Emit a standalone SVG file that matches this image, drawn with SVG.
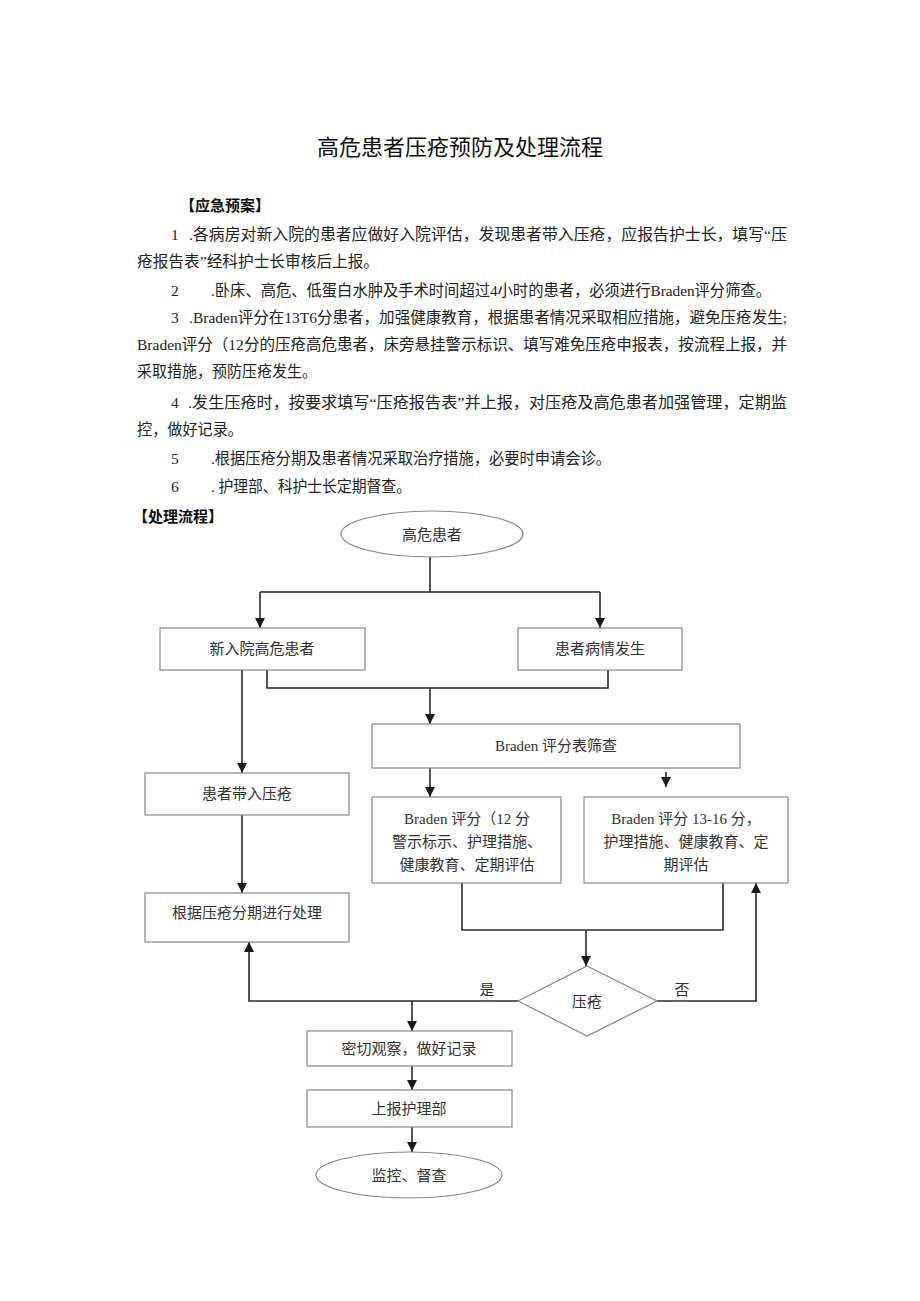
<svg xmlns="http://www.w3.org/2000/svg" width="920" height="1301" viewBox="0 0 920 1301">
<defs>
<style>
.t{font-family:'Liberation Serif','Noto Sans CJK SC',serif;font-size:15.5px;fill:#222}
.h{font-family:'Noto Sans CJK SC',sans-serif;font-size:15px;font-weight:bold;fill:#111}
.title{font-family:'Noto Sans CJK SC',sans-serif;font-size:22px;fill:#111}
.box{fill:#fff;stroke:#888;stroke-width:1.2}
.bt{font-family:'Liberation Serif','Noto Sans CJK SC',serif;font-size:15px;fill:#333;text-anchor:middle}
.c{fill:none;stroke:#2a2a2a;stroke-width:1.6}
</style>
<marker id="ar" markerUnits="userSpaceOnUse" markerWidth="10" markerHeight="10" viewBox="0 0 10 10" refX="10" refY="5" orient="auto">
<path d="M0,0 L10,5 L0,10 z" fill="#1a1a1a"/>
</marker>
</defs>
<rect width="920" height="1301" fill="#fff"/>

<text class="title" x="460" y="155" text-anchor="middle">高危患者压疮预防及处理流程</text>

<text class="h" x="180" y="211">【应急预案】</text>

<text class="t" x="171" y="240">1</text>
<text class="t" x="189" y="240" textLength="598" lengthAdjust="spacingAndGlyphs">.各病房对新入院的患者应做好入院评估，发现患者带入压疮，应报告护士长，填写“压</text>
<text class="t" x="137" y="267" textLength="242" lengthAdjust="spacingAndGlyphs">疮报告表”经科护士长审核后上报。</text>

<text class="t" x="171" y="296">2</text>
<text class="t" x="211" y="296" textLength="560" lengthAdjust="spacingAndGlyphs">.卧床、高危、低蛋白水肿及手术时间超过4小时的患者，必须进行Braden评分筛查。</text>

<text class="t" x="171" y="323">3</text>
<text class="t" x="189" y="323" textLength="598" lengthAdjust="spacingAndGlyphs">.Braden评分在13T6分患者，加强健康教育，根据患者情况采取相应措施，避免压疮发生;</text>
<text class="t" x="137" y="350" textLength="650" lengthAdjust="spacingAndGlyphs">Braden评分（12分的压疮高危患者，床旁悬挂警示标识、填写难免压疮申报表，按流程上报，并</text>
<text class="t" x="137" y="377" textLength="180" lengthAdjust="spacingAndGlyphs">采取措施，预防压疮发生。</text>

<text class="t" x="171" y="408">4</text>
<text class="t" x="188" y="408" textLength="599" lengthAdjust="spacingAndGlyphs">.发生压疮时，按要求填写“压疮报告表”并上报，对压疮及高危患者加强管理，定期监</text>
<text class="t" x="137" y="435" textLength="106" lengthAdjust="spacingAndGlyphs">控，做好记录。</text>

<text class="t" x="171" y="464">5</text>
<text class="t" x="211" y="464" textLength="400" lengthAdjust="spacingAndGlyphs">.根据压疮分期及患者情况采取治疗措施，必要时申请会诊。</text>

<text class="t" x="171" y="492">6</text>
<text class="t" x="211" y="492" textLength="200" lengthAdjust="spacingAndGlyphs">. 护理部、科护士长定期督查。</text>

<text class="h" x="133" y="522">【处理流程】</text>

<g id="connectors">
<path class="c" d="M430,557 V592 M260,592 H600"/>
<path class="c" d="M260,592 V628" marker-end="url(#ar)"/>
<path class="c" d="M600,592 V628" marker-end="url(#ar)"/>
<path class="c" d="M242,670 V773" marker-end="url(#ar)"/>
<path class="c" d="M267,670 V688 H608 V670"/>
<path class="c" d="M430,688 V724" marker-end="url(#ar)"/>
<path class="c" d="M430,768 V797" marker-end="url(#ar)"/>
<path class="c" d="M666,772 V787" marker-end="url(#ar)"/>
<path class="c" d="M242,815 V893" marker-end="url(#ar)"/>
<path class="c" d="M462,883 V930 H723 V883"/>
<path class="c" d="M586,930 V966" marker-end="url(#ar)"/>
<path class="c" d="M518,1001 H249 V942" marker-end="url(#ar)"/>
<path class="c" d="M657,1001 H756 V883" marker-end="url(#ar)"/>
<path class="c" d="M412,1001 V1031" marker-end="url(#ar)"/>
<path class="c" d="M412,1066 V1090" marker-end="url(#ar)"/>
<path class="c" d="M412,1127 V1152" marker-end="url(#ar)"/>
<text class="bt" x="487" y="995">是</text>
<text class="bt" x="682" y="995">否</text>
</g>

<g id="start">
<ellipse class="box" cx="432" cy="534" rx="91" ry="23"/>
<text class="bt" x="432" y="540">高危患者</text>
</g>
<g id="new-patient">
<rect class="box" x="160" y="628" width="205" height="42"/>
<text class="bt" x="262" y="654">新入院高危患者</text>
</g>
<g id="condition">
<rect class="box" x="518" y="628" width="164" height="42"/>
<text class="bt" x="600" y="654">患者病情发生</text>
</g>
<g id="braden">
<rect class="box" x="372" y="724" width="368" height="44"/>
<text class="bt" x="556" y="751">Braden 评分表筛查</text>
</g>
<g id="carry-in">
<rect class="box" x="145" y="773" width="204" height="42"/>
<text class="bt" x="247" y="799">患者带入压疮</text>
</g>
<g id="low-score">
<rect class="box" x="372" y="797" width="189" height="86"/>
<text class="bt" x="467" y="824">Braden 评分（12 分</text>
<text class="bt" x="467" y="847">警示标示、护理措施、</text>
<text class="bt" x="467" y="870">健康教育、定期评估</text>
</g>
<g id="mid-score">
<rect class="box" x="584" y="797" width="204" height="86"/>
<text class="bt" x="686" y="824">Braden 评分 13-16 分，</text>
<text class="bt" x="686" y="847">护理措施、健康教育、定</text>
<text class="bt" x="686" y="870">期评估</text>
</g>
<g id="treat">
<rect class="box" x="145" y="893" width="204" height="49"/>
<text class="bt" x="247" y="918">根据压疮分期进行处理</text>
</g>
<g id="decision">
<polygon class="box" points="587,966 657,1001 587,1036 518,1001"/>
<text class="bt" x="587" y="1007">压疮</text>
</g>
<g id="observe">
<rect class="box" x="307" y="1031" width="205" height="35"/>
<text class="bt" x="409" y="1054">密切观察，做好记录</text>
</g>
<g id="report">
<rect class="box" x="307" y="1090" width="205" height="37"/>
<text class="bt" x="409" y="1114">上报护理部</text>
</g>
<g id="end">
<ellipse class="box" cx="409" cy="1175" rx="93" ry="23"/>
<text class="bt" x="409" y="1181">监控、督查</text>
</g>
</svg>
